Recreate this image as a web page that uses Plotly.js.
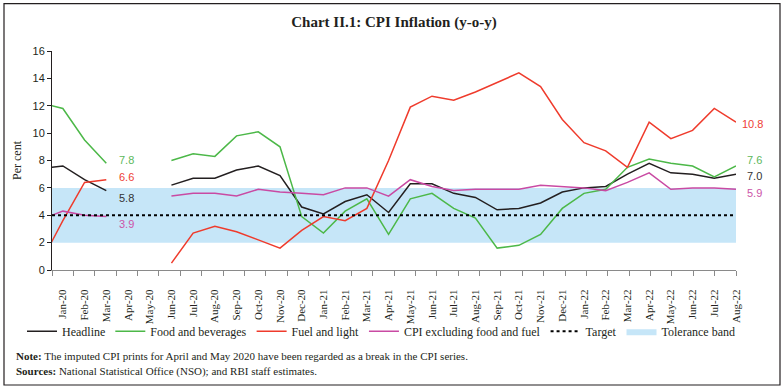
<!DOCTYPE html>
<html>
<head>
<meta charset="utf-8">
<script src="https://cdn.plot.ly/plotly-3.0.1.min.js"></script>
<style>html,body{margin:0;padding:0;background:#fff;}#chart{width:784px;height:389px;}</style>
</head>
<body>
<div id="chart"></div>
<script>
// Months (Dec-19 is only partly visible at the left edge, clipped by the axis)
const months = ['Dec-19','Jan-20','Feb-20','Mar-20','Apr-20','May-20','Jun-20','Jul-20','Aug-20','Sep-20','Oct-20','Nov-20','Dec-20',
  'Jan-21','Feb-21','Mar-21','Apr-21','May-21','Jun-21','Jul-21','Aug-21','Sep-21','Oct-21','Nov-21','Dec-21',
  'Jan-22','Feb-22','Mar-22','Apr-22','May-22','Jun-22','Jul-22','Aug-22'];

const headline = [7.4, 7.6, 6.6, 5.8, null, null, 6.2, 6.7, 6.7, 7.3, 7.6, 6.9, 4.6,
  4.1, 5.0, 5.5, 4.2, 6.3, 6.3, 5.6, 5.3, 4.4, 4.5, 4.9, 5.7,
  6.0, 6.1, 7.0, 7.8, 7.1, 7.0, 6.7, 7.0];

const foodBev = [12.2, 11.8, 9.5, 7.8, null, null, 8.0, 8.5, 8.3, 9.8, 10.1, 9.0, 3.9,
  2.7, 4.3, 5.2, 2.6, 5.2, 5.6, 4.5, 3.8, 1.6, 1.8, 2.6, 4.5,
  5.6, 5.9, 7.5, 8.1, 7.8, 7.6, 6.8, 7.6];

const fuelLight = [0.6, 3.6, 6.4, 6.6, null, null, 0.5, 2.7, 3.2, 2.8, 2.2, 1.6, 2.9,
  3.9, 3.6, 4.5, 8.0, 11.9, 12.7, 12.4, 13.0, 13.7, 14.4, 13.4, 11.0,
  9.3, 8.7, 7.5, 10.8, 9.6, 10.2, 11.8, 10.8];

const coreExFoodFuel = [3.7, 4.3, 4.0, 3.9, null, null, 5.4, 5.6, 5.6, 5.4, 5.9, 5.7, 5.6,
  5.5, 6.0, 6.0, 5.4, 6.6, 6.1, 5.8, 5.9, 5.9, 5.9, 6.2, 6.1,
  6.0, 5.8, 6.4, 7.1, 5.9, 6.0, 6.0, 5.9];

const target = 4;
const toleranceLow = 2;
const toleranceHigh = 6;

const yTicks = [0, 2, 4, 6, 8, 10, 12, 14, 16];

// ---- geometry helpers (layout only) ----
const L = 52, R = 736, T = 50.5, B = 270.5;
const xp = px => (px - L) / (R - L);
const yp = py => (B - py) / (B - T);

const xIdx = months.map((m, i) => i - 1);
const xMin = -0.5, xMax = xIdx[xIdx.length - 1];
const labelIdx = xIdx.slice(1);
const labelText = months.slice(1);
const nTicks = labelIdx.length + 1;
const boundaryTicks = Array.from({length: nTicks + 0}, (_, k) => xMin + k * (xMax - xMin) / (nTicks - 1));

const serif = 'Liberation Serif, DejaVu Serif, serif';
const sans = 'Liberation Sans, Arial, sans-serif';

const cBlack = '#231f20', cGreen = '#4cb848', cRed = '#ef3b2c', cMag = '#c94aa3', cBand = '#c6e6f8';

const traces = [
  {x: [xMin, xMax, xMax, xMin], y: [toleranceLow, toleranceLow, toleranceHigh, toleranceHigh], type: 'scatter', mode: 'lines',
   fill: 'toself', fillcolor: cBand, line: {width: 0, color: cBand}, name: 'Tolerance band', legendrank: 6, hoverinfo: 'skip'},
  {x: [xMin, xMax], y: [target, target], type: 'scatter', mode: 'lines', line: {color: '#000', width: 2, dash: '3px,3px'},
   name: 'Target', legendrank: 5, xaxis: 'x2'},
  {x: xIdx, y: headline, type: 'scatter', mode: 'lines', line: {color: cBlack, width: 1.5}, name: 'Headline', legendrank: 1, connectgaps: false},
  {x: xIdx, y: foodBev, type: 'scatter', mode: 'lines', line: {color: cGreen, width: 1.5}, name: 'Food and beverages', legendrank: 2, connectgaps: false},
  {x: xIdx, y: fuelLight, type: 'scatter', mode: 'lines', line: {color: cRed, width: 1.5}, name: 'Fuel and light', legendrank: 3, connectgaps: false},
  {x: xIdx, y: coreExFoodFuel, type: 'scatter', mode: 'lines', line: {color: cMag, width: 1.5}, name: 'CPI excluding food and fuel', legendrank: 4, connectgaps: false}
];

// value labels
const mar20 = months.indexOf('Mar-20');
const last = months.length - 1;
function lab(i, arr, color, xshift, yshift) {
  return {x: xIdx[i], y: arr[i], xref: 'x', yref: 'y', text: arr[i].toFixed(1), showarrow: false,
    xanchor: 'left', yanchor: 'middle', xshift: xshift, yshift: yshift, font: {family: sans, size: 11, color: color}};
}
const annotations = [
  lab(mar20, foodBev, '#5cb85c', 11, 3),
  lab(mar20, fuelLight, '#ee4035', 11, 3),
  lab(mar20, headline, '#333333', 11, -7),
  lab(mar20, coreExFoodFuel, '#cc55a8', 11, -7),
  lab(last, fuelLight, '#ee4035', 4, -2),
  lab(last, foodBev, '#5cb85c', 9, 6),
  lab(last, headline, '#333333', 9, -2),
  lab(last, coreExFoodFuel, '#cc55a8', 9, -4),
  {xref: 'paper', yref: 'paper', x: xp(14), y: yp(357), xanchor: 'left', yanchor: 'middle', showarrow: false, align: 'left',
   text: '<b>Note:</b> The imputed CPI prints for April and May 2020 have been regarded as a break in the CPI series.',
   font: {family: serif, size: 11, color: '#231f20'}},
  {xref: 'paper', yref: 'paper', x: xp(14), y: yp(372), xanchor: 'left', yanchor: 'middle', showarrow: false, align: 'left',
   text: '<b>Sources:</b> National Statistical Office (NSO); and RBI staff estimates.',
   font: {family: serif, size: 11, color: '#231f20'}}
];

const layout = {
  width: 784, height: 389,
  margin: {l: L, r: 784 - R, t: T, b: 389 - B, pad: 0},
  paper_bgcolor: '#fff', plot_bgcolor: '#fff',
  title: {text: '<b>Chart II.1: CPI Inflation (y-o-y)</b>', font: {family: serif, size: 15, color: '#231f20'},
          x: 0.5, xref: 'paper', xanchor: 'center', y: 1 - 22 / 389, yref: 'container', yanchor: 'middle'},
  showlegend: true,
  legend: {orientation: 'h', x: xp(22), xanchor: 'left', y: yp(332), yanchor: 'middle',
           font: {family: serif, size: 12, color: '#231f20'}, bgcolor: 'rgba(0,0,0,0)', traceorder: 'normal', itemwidth: 30},
  xaxis: {range: [xMin, xMax], tickmode: 'array', tickvals: labelIdx, ticktext: labelText, tickangle: -90,
          ticks: 'outside', ticklen: 14, tickcolor: 'rgba(0,0,0,0)', showgrid: false, zeroline: false,
          showline: true, linecolor: '#8a8a8a', linewidth: 1, tickfont: {family: serif, size: 11, color: '#231f20'}, fixedrange: true},
  xaxis2: {range: [xMin, xMax], overlaying: 'x', anchor: 'y', side: 'bottom', tickmode: 'array', tickvals: boundaryTicks,
           showticklabels: false, ticks: 'outside', ticklen: 5, tickcolor: '#8a8a8a', tickwidth: 1, showgrid: false, zeroline: false, showline: false},
  yaxis: {range: [0, 16], tickmode: 'array', tickvals: yTicks, ticks: 'outside', ticklen: 4, tickcolor: '#231f20',
          showline: true, linecolor: '#231f20', linewidth: 1, showgrid: false, zeroline: false,
          tickfont: {family: sans, size: 11, color: '#231f20'},
          title: {text: 'Per cent', font: {family: serif, size: 12, color: '#231f20'}, standoff: 8}},
  shapes: [
    {type: 'rect', xref: 'paper', yref: 'paper', x0: xp(4), x1: xp(780), y0: yp(3), y1: yp(386), line: {color: '#231f20', width: 1.2}, fillcolor: 'rgba(0,0,0,0)', layer: 'above'}
  ],
  annotations: annotations
};

Plotly.newPlot('chart', traces, layout, {displayModeBar: false, staticPlot: true});
</script>
</body>
</html>
